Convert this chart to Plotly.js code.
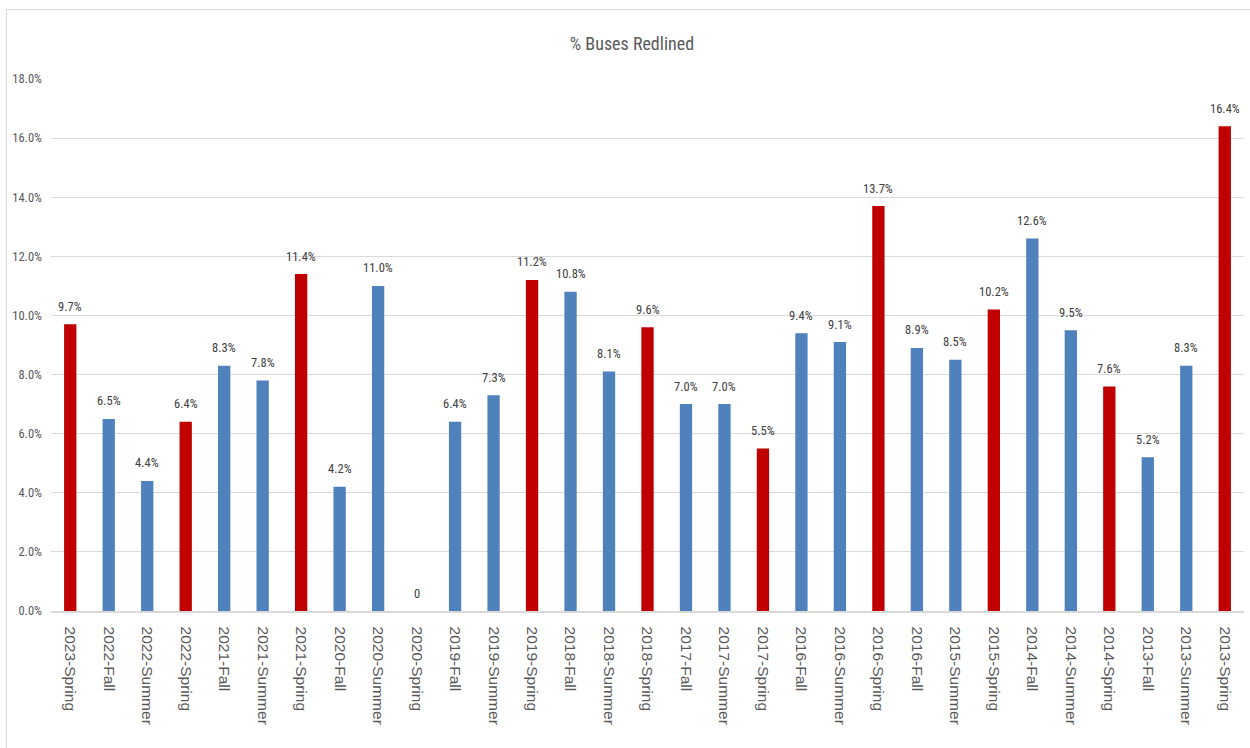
<!DOCTYPE html>
<html>
<head>
<meta charset="utf-8">
<script src="https://cdn.plot.ly/plotly-3.0.1.min.js"></script>
<style>
  html, body { margin: 0; padding: 0; background: #fff; }
  #wrap { position: relative; width: 1250px; height: 748px; overflow: hidden; }
  #chart { position: absolute; left: 0; top: 0; width: 1250px; height: 748px; }
  #frame { position: absolute; left: 6px; top: 9px; width: 1260px; height: 760px;
           border: 1px solid #d9d9d9; pointer-events: none; }
</style>
</head>
<body>
<div id="wrap">
  <div id="chart"></div>
  <div id="frame"></div>
</div>
<script>
const categories = [
  "2023-Spring", "2022-Fall", "2022-Summer", "2022-Spring", "2021-Fall", "2021-Summer",
  "2021-Spring", "2020-Fall", "2020-Summer", "2020-Spring", "2019-Fall", "2019-Summer",
  "2019-Spring", "2018-Fall", "2018-Summer", "2018-Spring", "2017-Fall", "2017-Summer",
  "2017-Spring", "2016-Fall", "2016-Summer", "2016-Spring", "2016-Fall", "2015-Summer",
  "2015-Spring", "2014-Fall", "2014-Summer", "2014-Spring", "2013-Fall", "2013-Summer",
  "2013-Spring"
];
const valuesPct = [
  9.7, 6.5, 4.4, 6.4, 8.3, 7.8,
  11.4, 4.2, 11.0, 0, 6.4, 7.3,
  11.2, 10.8, 8.1, 9.6, 7.0, 7.0,
  5.5, 9.4, 9.1, 13.7, 8.9, 8.5,
  10.2, 12.6, 9.5, 7.6, 5.2, 8.3,
  16.4
];
const yTicks = [0, 0.02, 0.04, 0.06, 0.08, 0.10, 0.12, 0.14, 0.16, 0.18];

const RED = "#C00000";
const BLUE = "#4F81BD";

const xs = categories.map((c, i) => i);
const ys = valuesPct.map(v => v / 100);
const colors = categories.map(c => c.indexOf("Spring") >= 0 ? RED : BLUE);
const labels = valuesPct.map(v => v === 0 ? "0" : v.toFixed(1) + "%");

const condensed = "'Liberation Sans Narrow', 'Roboto Condensed', 'DejaVu Sans Condensed', sans-serif";

const annotations = xs.map((x, i) => ({
  x: x, y: ys[i], xref: "x", yref: "y",
  text: labels[i], showarrow: false,
  yanchor: "middle", yshift: 18,
  font: { family: condensed, size: 12.5, color: "#404040" }
}));

const data = [{
  type: "bar",
  x: xs,
  y: ys,
  marker: { color: colors },
  hoverinfo: "skip"
}];

const layout = {
  width: 1250, height: 748,
  paper_bgcolor: "rgba(0,0,0,0)",
  plot_bgcolor: "#fff",
  margin: { l: 50.75, r: 5.75, t: 79, b: 137 },
  showlegend: false,
  bargap: 0.68,
  title: {
    text: "% Buses Redlined",
    x: 632 / 1250, xref: "container", xanchor: "center",
    y: 1 - 44 / 748, yref: "container", yanchor: "middle",
    font: { family: condensed, size: 18, color: "#595959" }
  },
  xaxis: {
    range: [-0.5, categories.length - 0.5],
    tickmode: "array",
    tickvals: xs,
    ticktext: categories,
    tickangle: 90,
    ticks: "",
    showgrid: false,
    zeroline: false,
    showline: true,
    linecolor: "#d9d9d9",
    linewidth: 1.5,
    tickfont: { family: "'Liberation Sans', Arial, sans-serif", size: 15.5, color: "#595959" },
    ticklabelstandoff: 11,
    fixedrange: true
  },
  yaxis: {
    range: [0, 0.18],
    tickmode: "array",
    tickvals: yTicks,
    tickformat: ".1%",
    ticks: "",
    showgrid: true,
    gridcolor: "#d9d9d9",
    gridwidth: 1,
    zeroline: false,
    showline: false,
    tickfont: { family: condensed, size: 12.5, color: "#595959" },
    ticklabelstandoff: 8,
    fixedrange: true
  },
  annotations: annotations
};

Plotly.newPlot("chart", data, layout, { displayModeBar: false, staticPlot: true });
</script>
</body>
</html>
